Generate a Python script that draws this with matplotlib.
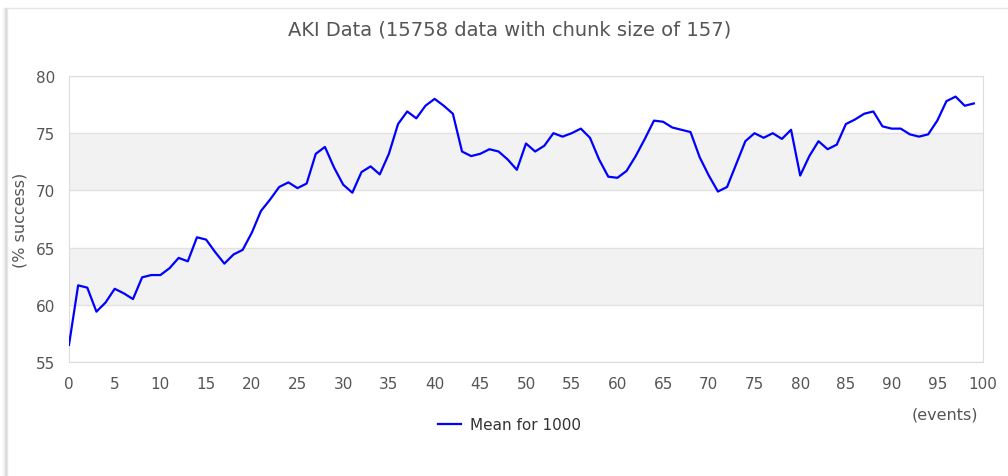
import matplotlib
matplotlib.use('Agg')
import matplotlib.pyplot as plt
from matplotlib.patches import Rectangle
from matplotlib.lines import Line2D

# 데이터
events = list(range(100))
success = [56.5, 61.7, 61.5, 59.4, 60.2, 61.4, 61.0, 60.5, 62.4, 62.6,
           62.6, 63.2, 64.1, 63.8, 65.9, 65.7, 64.6, 63.6, 64.4, 64.8,
           66.3, 68.2, 69.2, 70.3, 70.7, 70.2, 70.6, 73.2, 73.8, 72.0,
           70.5, 69.8, 71.6, 72.1, 71.4, 73.2, 75.8, 76.9, 76.3, 77.4,
           78.0, 77.4, 76.7, 73.4, 73.0, 73.2, 73.6, 73.4, 72.7, 71.8,
           74.1, 73.4, 73.9, 75.0, 74.7, 75.0, 75.4, 74.6, 72.7, 71.2,
           71.1, 71.7, 73.0, 74.5, 76.1, 76.0, 75.5, 75.3, 75.1, 72.9,
           71.3, 69.9, 70.3, 72.3, 74.3, 75.0, 74.6, 75.0, 74.5, 75.3,
           71.3, 73.0, 74.3, 73.6, 74.0, 75.8, 76.2, 76.7, 76.9, 75.6,
           75.4, 75.4, 74.9, 74.7, 74.9, 76.1, 77.8, 78.2, 77.4, 77.6]
xticks = list(range(0, 101, 5))
yticks = [55, 60, 65, 70, 75, 80]
bands = [(60, 65), (70, 75)]

W, H = 1008, 477
fig = plt.figure(figsize=(W / 100, H / 100), dpi=100)
txt = '#555555'

# 바깥 패널 테두리 + 왼쪽 그림자 (축 뒤에 그리기)
for i, a in enumerate([0.05, 0.1, 0.18, 0.3]):
    fig.add_artist(Line2D([(3 + i) / W] * 2, [0, 1 - 9 / H], transform=fig.transFigure,
                          color='gray', alpha=a, lw=1, zorder=-2))
fig.add_artist(Rectangle((7 / W, -0.01), 1.0, 1 - 9 / H + 0.01, transform=fig.transFigure,
                         facecolor='white', edgecolor='#e6e6e6', lw=1, zorder=-1))

ax = fig.add_axes([69 / W, 1 - 363 / H, (983 - 69) / W, (363 - 77) / H])
for lo, hi in bands:
    ax.axhspan(lo, hi, color='#f2f2f2', lw=0, zorder=0)
for y in yticks:
    ax.axhline(y, color='#e2e2e2', lw=1, zorder=1)

ax.plot(events, success, color='#0000ff', lw=1.6, zorder=3, label='Mean for 1000')

ax.set_xlim(0, 100)
ax.set_ylim(55, 80)
ax.set_xticks(xticks)
ax.set_yticks(yticks)
ax.tick_params(length=0, labelsize=11, labelcolor=txt)
ax.tick_params(axis='x', pad=10)
ax.tick_params(axis='y', pad=10)
for s in ax.spines.values():
    s.set_color('#dcdcdc')

fig.text(510 / W, 1 - 30 / H, 'AKI Data (15758 data with chunk size of 157)',
         ha='center', va='center', fontsize=14, color=txt)
fig.text(20 / W, 1 - 220 / H, '(% success)', rotation=90, ha='center', va='center',
         fontsize=11.5, color=txt)
fig.text(978 / W, 1 - 415 / H, '(events)', ha='right', va='center', fontsize=11.5, color=txt)

leg = ax.legend(loc='center left', bbox_to_anchor=(430 / W, 1 - 426 / H),
                bbox_transform=fig.transFigure, frameon=False, fontsize=11,
                handlelength=1.5, handletextpad=0.6, borderpad=0)
for t in leg.get_texts():
    t.set_color('#333333')

plt.savefig('out.png', dpi=100)
